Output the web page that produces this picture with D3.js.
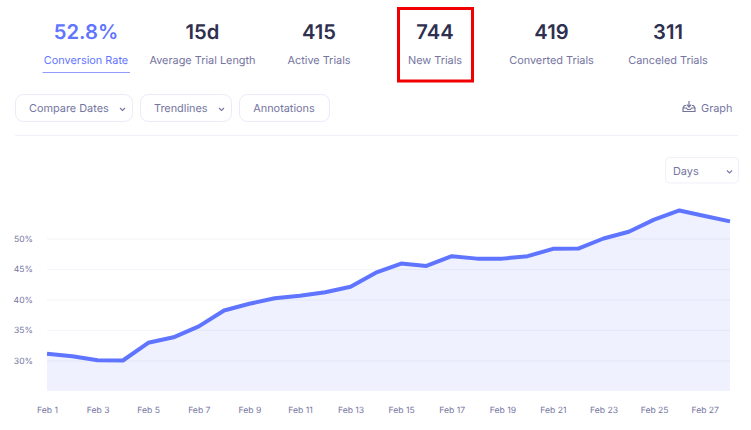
<!DOCTYPE html>
<html><head><meta charset="utf-8">
<script src="https://cdnjs.cloudflare.com/ajax/libs/d3/7.8.5/d3.min.js"></script>
<style>html,body{margin:0;padding:0;background:#fff}svg{display:block}text{font-family:Inter,"Noto Sans",sans-serif;text-rendering:geometricPrecision}</style>
</head><body><svg id="c" width="751" height="430"></svg>
<script>
const days = d3.range(1, 29);
const rates = [31.1,30.7,30.05,30.0,32.9,33.8,35.6,38.2,39.3,40.2,40.6,41.2,42.1,44.4,45.9,45.5,47.1,46.7,46.7,47.1,48.3,48.35,50.0,51.1,53.1,54.6,53.7,52.8];
const yTicks = [30,35,40,45,50];
const xTicks = [1,3,5,7,9,11,13,15,17,19,21,23,25,27];
const statValues = ["52.8%","15d","415","744","419","311"];
const statLabels = ["Conversion Rate","Average Trial Length","Active Trials","New Trials","Converted Trials","Canceled Trials"];
const statCenters = [86,202.5,319,435,551.5,668];
const buttons = [["Compare Dates",15,117,true],["Trendlines",140,91,true],["Annotations",239,90,false]];

const svg = d3.select("#c");
const x = d3.scaleLinear().domain([1,28]).range([47,730]);
const y = d3.scaleLinear().domain([25,50]).range([391,238.5]);
const ink="#75759f", dark="#2f2f4f", blue="#5f75ff", border="#e9eafb";
const fs=10.9;

// stats
svg.selectAll(".v").data(statValues).join("text").attr("class","v")
  .attr("x",(d,i)=>statCenters[i]).attr("y",38.5).attr("text-anchor","middle")
  .attr("font-size",20.2).attr("font-weight",600)
  .attr("fill",(d,i)=>i==0?blue:dark).text(d=>d);
svg.selectAll(".l").data(statLabels).join("text").attr("class","l")
  .attr("x",(d,i)=>statCenters[i]).attr("y",64).attr("text-anchor","middle")
  .attr("font-size",fs).attr("fill",(d,i)=>i==0?blue:ink).text(d=>d);
svg.append("line").attr("x1",42.5).attr("x2",130).attr("y1",72.5).attr("y2",72.5).attr("stroke","#8f9dff");
svg.append("rect").attr("x",398.5).attr("y",8.5).attr("width",74).attr("height",72.5)
  .attr("fill","none").attr("stroke","#f00000").attr("stroke-width",3);

// controls
const chev=(cx,cy)=>svg.append("path").attr("d",`M${cx-2.5},${cy-1.5}L${cx},${cy+1}L${cx+2.5},${cy-1.5}`)
  .attr("fill","none").attr("stroke",ink).attr("stroke-width",1.1);
buttons.forEach(([t,bx,w,c])=>{
  svg.append("rect").attr("x",bx+.5).attr("y",94.5).attr("width",w).attr("height",27).attr("rx",8)
    .attr("fill","#fff").attr("stroke",border);
  svg.append("text").attr("x",c?bx+14:bx+w/2).attr("y",111.8).attr("font-size",fs)
    .attr("text-anchor",c?"start":"middle").attr("fill",ink).text(t);
  if(c) chev(bx+w-9.5,109.5);
});
svg.append("line").attr("x1",15).attr("x2",738).attr("y1",135.5).attr("y2",135.5).attr("stroke","#f0f0fa");
svg.append("g").attr("fill","none").attr("stroke",ink).attr("stroke-width",1.2).call(g=>{
  g.append("path").attr("d","M686,105.5H684.5L683,108V111.5H695V108L693.5,105.5H692M683,108H686.5L687.5,109.5H690.5L691.5,108H695");
  g.append("path").attr("d","M689,101V107M686.8,104.6L689,107L691.2,104.6");
});
svg.append("text").attr("x",701).attr("y",111.8).attr("font-size",fs).attr("fill",ink).text("Graph");
svg.append("rect").attr("x",665.5).attr("y",157.5).attr("width",73).attr("height",25.5).attr("rx",4)
  .attr("fill","#fff").attr("stroke","#eff0fa");
svg.append("text").attr("x",673).attr("y",174.5).attr("font-size",fs).attr("fill",ink).text("Days");
chev(729.5,172);

// chart
const data = days.map((d,i)=>({d,v:rates[i]}));
svg.append("path").datum(data).attr("fill","#eff1fe")
  .attr("d",d3.area().x(p=>x(p.d)).y0(y(25)).y1(p=>y(p.v)));
const ga = svg.append("g").attr("transform","translate(47,0)")
  .call(d3.axisLeft(y).tickValues(yTicks).tickSize(-683).tickPadding(14).tickFormat(d=>d+"%"));
ga.select(".domain").remove();
ga.selectAll("line").attr("stroke","#7070c0").attr("stroke-opacity",.08);
ga.selectAll("text").attr("font-size",8.6).attr("fill",ink).style("font-family","Inter");
svg.append("path").datum(data).attr("fill","none").attr("stroke",blue).attr("stroke-width",4)
  .attr("stroke-linejoin","round").attr("d",d3.line().x(p=>x(p.d)).y(p=>y(p.v)));
const gx = svg.append("g").attr("transform","translate(0,391)")
  .call(d3.axisBottom(x).tickValues(xTicks).tickSize(0).tickPadding(15.5).tickFormat(d=>"Feb "+d));
gx.select(".domain").remove();
gx.selectAll("text").attr("font-size",8.6).attr("fill",ink).style("font-family","Inter");
</script></body></html>
